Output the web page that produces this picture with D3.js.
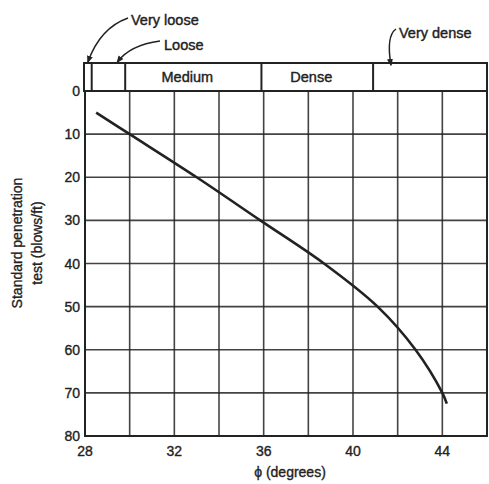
<!DOCTYPE html>
<html>
<head>
<meta charset="utf-8">
<script src="https://cdn.jsdelivr.net/npm/d3@7"></script>
<style>
  html, body { margin: 0; padding: 0; background: #fff; }
  svg { display: block; }
  text { font-family: "Liberation Sans", Arial, sans-serif; fill: #222; }
</style>
</head>
<body>
<svg id="chart" width="489" height="484"></svg>
<script>
// ---- data ----
const phiDeg = [28.5, 30, 33, 35.85, 38.7, 41.1, 42.8, 44, 44.2];
const sptN   = [5, 10, 20, 30, 40, 50, 60, 70, 72.5];
const xGrid = [28, 30, 32, 34, 36, 38, 40, 42, 44, 46];
const xTickLabels = [28, 32, 36, 40, 44];
const yTicks = [0, 10, 20, 30, 40, 50, 60, 70, 80];
const densityNames = ["Very loose", "Loose", "Medium", "Dense", "Very dense"];
const densityBounds = [28, 28.3, 29.8, 35.9, 40.9, 46];

const svg = d3.select("#chart");
const ink = "#222";

const x = d3.scaleLinear().domain([28, 46]).range([85, 487]);
const y = d3.scaleLinear().domain([0, 80]).range([91, 436]);
const boxTop = 63;

// grid
const g = svg.append("g");
g.selectAll("line.v").data(xGrid).join("line")
  .attr("x1", d => x(d)).attr("x2", d => x(d))
  .attr("y1", y(0)).attr("y2", y(80))
  .attr("stroke", ink).attr("stroke-width", 1.6).attr("stroke-opacity", 0.85);
g.selectAll("line.h").data(yTicks).join("line")
  .attr("x1", x(28)).attr("x2", x(46))
  .attr("y1", d => y(d)).attr("y2", d => y(d))
  .attr("stroke", ink).attr("stroke-width", 1.6).attr("stroke-opacity", 0.85);

// plot border
svg.append("rect")
  .attr("x", x(28)).attr("y", y(0))
  .attr("width", x(46) - x(28)).attr("height", y(80) - y(0))
  .attr("fill", "none").attr("stroke", ink).attr("stroke-width", 2);

// density box
svg.append("rect")
  .attr("x", x(28) - 1).attr("y", boxTop)
  .attr("width", x(46) - x(28) + 1).attr("height", y(0) - boxTop)
  .attr("fill", "none").attr("stroke", ink).attr("stroke-width", 2);
svg.selectAll("line.div").data(densityBounds.slice(1, -1)).join("line")
  .attr("x1", d => x(d)).attr("x2", d => x(d))
  .attr("y1", boxTop).attr("y2", y(0))
  .attr("stroke", ink).attr("stroke-width", 2);

// in-box labels
[2, 3].forEach(i => {
  svg.append("text")
    .attr("x", (x(densityBounds[i]) + x(densityBounds[i + 1])) / 2 - 6)
    .attr("y", 82)
    .attr("text-anchor", "middle")
    .attr("font-size", 14.5)
    .attr("stroke", ink).attr("stroke-width", 0.4)
    .text(densityNames[i]);
});

// annotations with arrows
const defs = svg.append("defs");
defs.append("marker").attr("id", "ah")
  .attr("viewBox", "0 0 10 10").attr("refX", 8).attr("refY", 5)
  .attr("markerWidth", 5).attr("markerHeight", 5).attr("orient", "auto")
  .append("path").attr("d", "M0,1 L10,5 L0,9 Z").attr("fill", ink);

function arrow(x0, y0, cx, cy, x1, y1) {
  const p = d3.path();
  p.moveTo(x0, y0);
  p.quadraticCurveTo(cx, cy, x1, y1);
  svg.append("path").attr("d", p.toString())
    .attr("fill", "none").attr("stroke", ink).attr("stroke-width", 1.5)
    .attr("marker-end", "url(#ah)");
}
// Very loose
svg.append("text").attr("x", 131).attr("y", 25).attr("font-size", 14.5)
  .attr("stroke", ink).attr("stroke-width", 0.4).text(densityNames[0]);
arrow(128, 18, 100, 28, x(28.13), boxTop - 1);
// Loose
svg.append("text").attr("x", 164).attr("y", 50).attr("font-size", 14.5)
  .attr("stroke", ink).attr("stroke-width", 0.4).text(densityNames[1]);
arrow(160, 41, 130, 45, x(29.45), boxTop - 1);
// Very dense
svg.append("text").attr("x", 399).attr("y", 38).attr("font-size", 14.5)
  .attr("stroke", ink).attr("stroke-width", 0.4).text(densityNames[4]);
arrow(396, 29, 386, 36, x(41.7), boxTop + 2);

// curve
const pts = phiDeg.map((p, i) => [p, sptN[i]]);
svg.append("path")
  .attr("d", d3.line().x(d => x(d[0])).y(d => y(d[1])).curve(d3.curveCatmullRom.alpha(0.5))(pts))
  .attr("fill", "none").attr("stroke", ink).attr("stroke-width", 2.6);

// y tick labels
svg.selectAll("text.yt").data(yTicks).join("text")
  .attr("x", 80).attr("y", d => y(d) + 5)
  .attr("text-anchor", "end").attr("font-size", 14)
  .attr("stroke", ink).attr("stroke-width", 0.35)
  .text(d => d);

// x tick labels
svg.selectAll("text.xt").data(xTickLabels).join("text")
  .attr("x", d => x(d)).attr("y", 456)
  .attr("text-anchor", "middle").attr("font-size", 14)
  .attr("stroke", ink).attr("stroke-width", 0.35)
  .text(d => d);

// axis titles
svg.append("text").attr("x", 290).attr("y", 477)
  .attr("text-anchor", "middle").attr("font-size", 14)
  .attr("stroke", ink).attr("stroke-width", 0.35)
  .text("ϕ (degrees)");

const yt = svg.append("text")
  .attr("transform", "translate(22,243) rotate(-90)")
  .attr("text-anchor", "middle").attr("font-size", 14)
  .attr("stroke", ink).attr("stroke-width", 0.35);
yt.append("tspan").attr("x", 0).attr("dy", 0).text("Standard penetration");
yt.append("tspan").attr("x", 0).attr("dy", 20).text("test (blows/ft)");
</script>
</body>
</html>
